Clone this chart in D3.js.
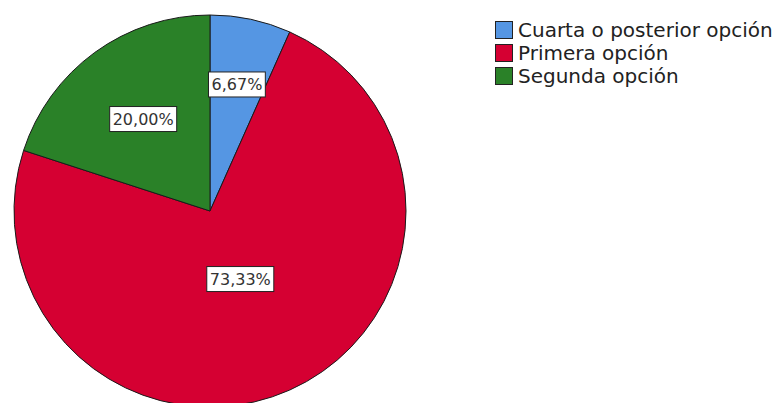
<!DOCTYPE html>
<meta charset="utf-8">
<head>
    <title>Pie chart</title>
    <style>
        body { margin: 0; background: #fff; }
        text { font-family: "DejaVu Sans", Verdana, sans-serif; }
    </style>
</head>
<body>
<script src="https://d3js.org/d3.v7.min.js"></script>
<script>
    // data
    var categories = ["Cuarta o posterior opción", "Primera opción", "Segunda opción"];
    var percents = [6.67, 73.33, 20.00];
    var colors = ["#5596e3", "#d50032", "#2a8128"];
    // how far out each label sits, as a share of the radius
    var labelRadius = [0.66, 0.38, 0.58];

    var width = 779, height = 403;
    var cx = 210, cy = 211, r = 196;

    var svg = d3.select("body").append("svg")
        .attr("width", width)
        .attr("height", height);

    var pie = d3.pie().sort(null).value(function(d) { return d; });
    var arcs = pie(percents);
    var arc = d3.arc().innerRadius(0).outerRadius(r);

    var g = svg.append("g").attr("transform", "translate(" + cx + "," + cy + ")");

    g.selectAll("path")
        .data(arcs)
        .enter().append("path")
        .attr("d", arc)
        .attr("fill", function(d, i) { return colors[i]; })
        .attr("stroke", "#1a1a1a")
        .attr("stroke-width", 1);

    // labels with white boxes
    var fmt = function(v) { return v.toFixed(2).replace(".", ",") + "%"; };
    arcs.forEach(function(d, i) {
        var lr = labelRadius[i] * r;
        var c = d3.arc().innerRadius(lr).outerRadius(lr).centroid(d);
        var lg = g.append("g").attr("transform", "translate(" + c[0] + "," + c[1] + ")");
        var rect = lg.append("rect");
        var t = lg.append("text")
            .attr("text-anchor", "middle")
            .attr("dy", "0.36em")
            .attr("fill", "#333")
            .style("font-size", "16px")
            .text(fmt(percents[i]));
        var w = t.node().getComputedTextLength();
        rect.attr("x", -w / 2 - 3).attr("y", -12.5)
            .attr("width", w + 6).attr("height", 25)
            .attr("fill", "#fff")
            .attr("stroke", "#222")
            .attr("stroke-width", 1);
    });

    // legend
    var legend = svg.append("g").attr("transform", "translate(495,21)");
    categories.forEach(function(name, i) {
        legend.append("rect")
            .attr("x", 0.5).attr("y", i * 23 + 0.5)
            .attr("width", 17).attr("height", 17)
            .attr("fill", colors[i])
            .attr("stroke", "#222")
            .attr("stroke-width", 1);
        legend.append("text")
            .attr("x", 23).attr("y", i * 23 + 9)
            .attr("dy", "0.36em")
            .attr("fill", "#222")
            .style("font-size", "20px")
            .text(name);
    });
</script>
</body>
